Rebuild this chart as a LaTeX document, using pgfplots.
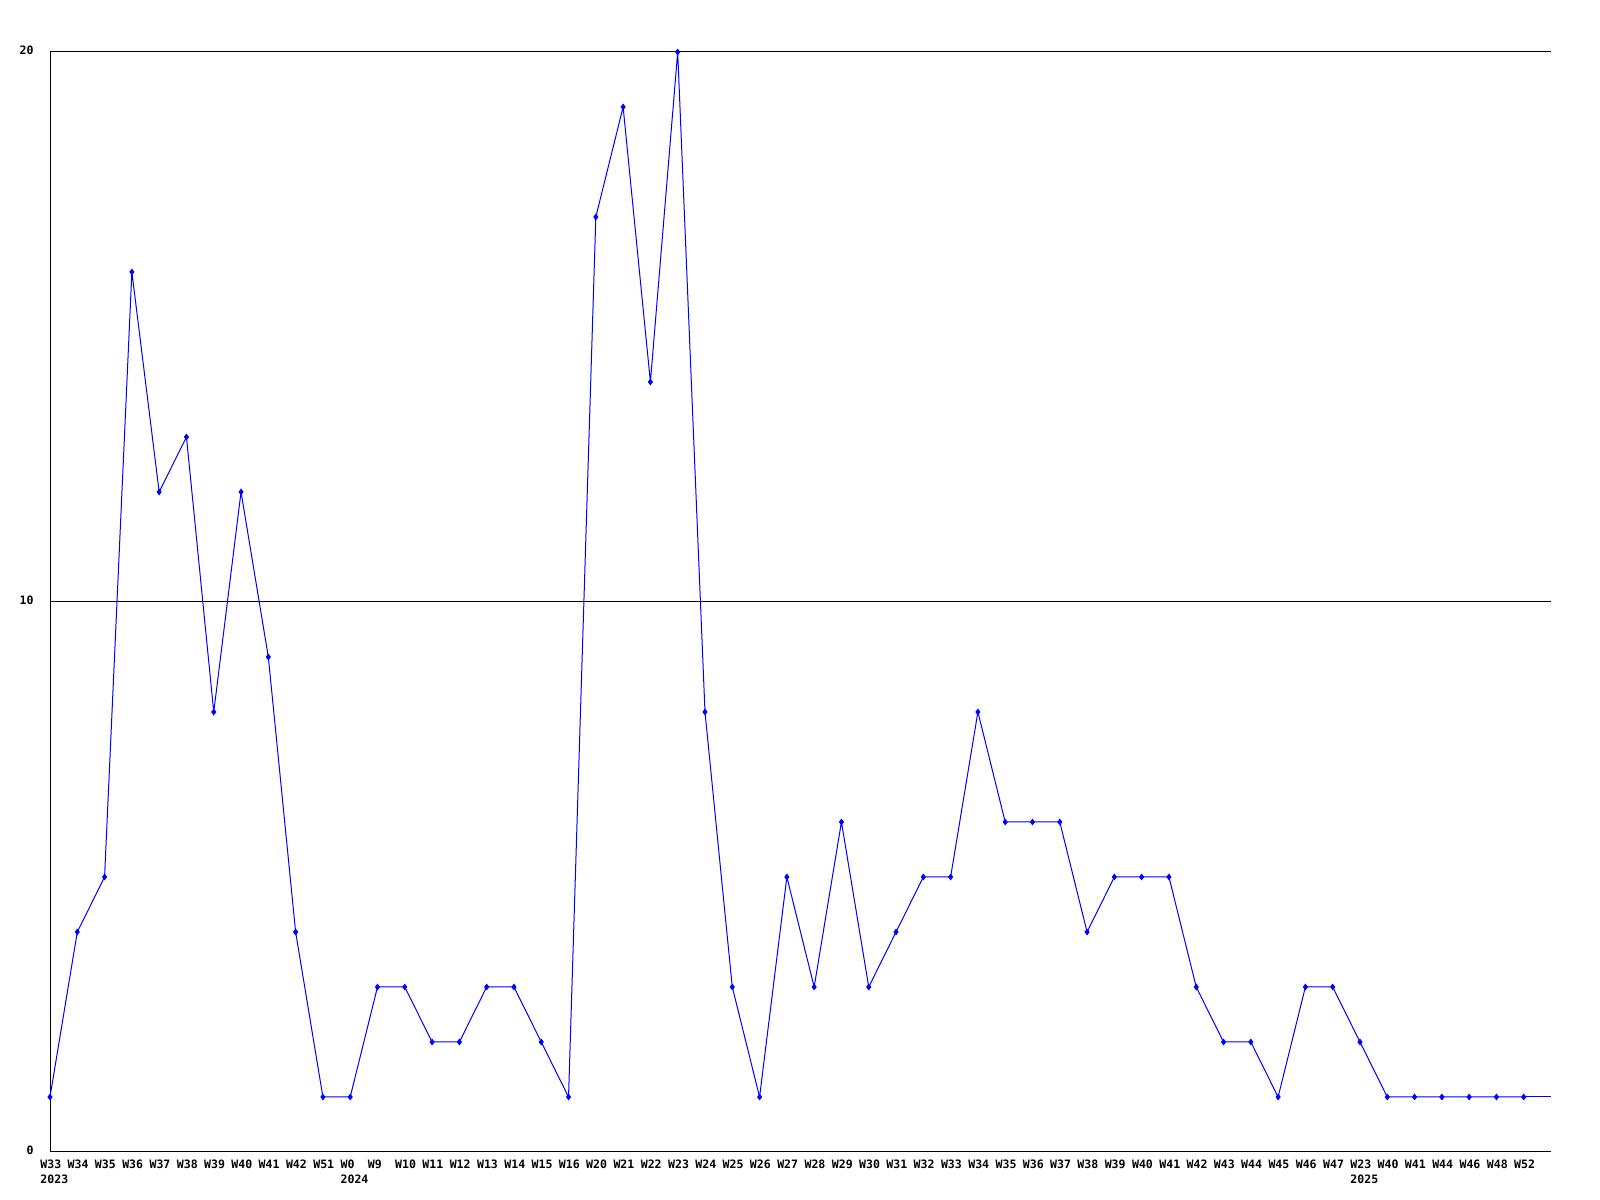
\documentclass[border=0pt]{standalone}
\usepackage{pgfplots}
\pgfplotsset{compat=1.18}
\usepackage{fontspec}
\setmonofont{DejaVu Sans Mono}
\definecolor{lineblue}{RGB}{0,0,255}
\begin{document}
\begin{tikzpicture}[x=1bp,y=1bp]
\path[use as bounding box] (0,0) rectangle (800,600);
\begin{axis}[
  at={(25bp,24bp)}, anchor=south west,
  scale only axis, width=750.5bp, height=550bp,
  xmin=0, xmax=55, ymin=0, ymax=20,
  axis x line*=bottom, axis y line*=left,
  axis line style={black, line width=0.5bp},
  ytick={0,10,20},
  ymajorgrids, grid style={black, line width=0.5bp},
  major tick length=0pt,
  xtick={0,...,54},
  xticklabels={{W33\\\rlap{2023}},W34,W35,W36,W37,W38,W39,W40,W41,W42,W51,{W0\\\rlap{2024}},W9,W10,W11,W12,W13,W14,W15,W16,W20,W21,W22,W23,W24,W25,W26,W27,W28,W29,W30,W31,W32,W33,W34,W35,W36,W37,W38,W39,W40,W41,W42,W43,W44,W45,W46,W47,{W23\\\rlap{2025}},W40,W41,W44,W46,W48,W52},
  xticklabel style={font=\ttfamily\bfseries\fontsize{5.8}{7.5}\selectfont, align=left, anchor=north west, inner sep=0pt, yshift=-3.8bp, xshift=-5bp},
  yticklabel style={font=\ttfamily\bfseries\fontsize{5.8}{7.5}\selectfont, anchor=east, inner sep=0pt, xshift=-8bp, yshift=0.8bp},
  /pgf/number format/assume math mode=true,
  clip=false,
]
\addplot[lineblue, line width=0.5bp, mark=diamond*, mark size=1.3bp, mark options={lineblue}] coordinates {
(0,1)(1,4)(2,5)(3,16)(4,12)(5,13)(6,8)(7,12)(8,9)(9,4)
(10,1)(11,1)(12,3)(13,3)(14,2)(15,2)(16,3)(17,3)(18,2)(19,1)
(20,17)(21,19)(22,14)(23,20)(24,8)(25,3)(26,1)(27,5)(28,3)(29,6)
(30,3)(31,4)(32,5)(33,5)(34,8)(35,6)(36,6)(37,6)(38,4)(39,5)
(40,5)(41,5)(42,3)(43,2)(44,2)(45,1)(46,3)(47,3)(48,2)(49,1)
(50,1)(51,1)(52,1)(53,1)(54,1)
};
\addplot[lineblue, line width=0.5bp, no marks] coordinates {(54,1)(55,1)};
\end{axis}
\end{tikzpicture}
\end{document}
